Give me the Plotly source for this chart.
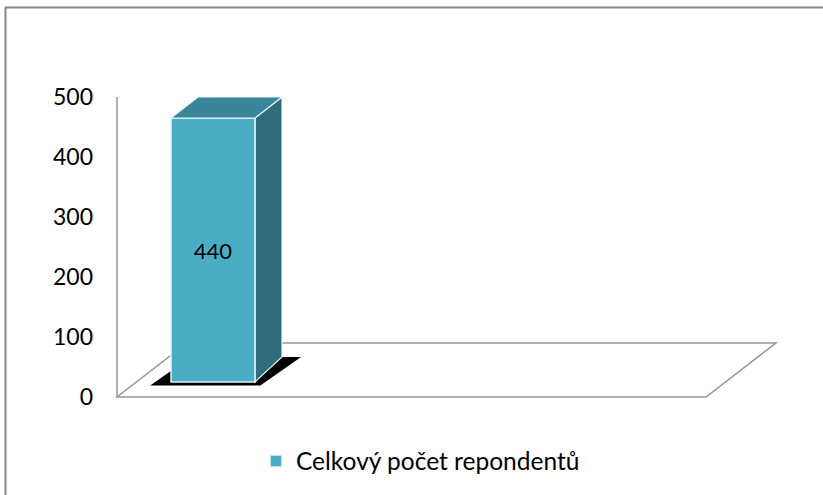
import plotly.graph_objects as go

# ---- data ----
categories = ["1"]
series_name = "Celkový počet repondentů"
values = [440]
y_ticks = [0, 100, 200, 300, 400, 500]

# ---- style / geometry ----
W, H = 823, 495
FONT = "Lato"
FRONT = "#4BACC6"
TOP = "#3A8599"
SIDE = "#306D7C"
EDGE = "rgba(235,248,252,0.95)"
GRID = "#969696"

ml, mr, mt, mb = 112, 41, 94, 95
plot_w = W - ml - mr
plot_h = H - mt - mb

# main (wall/floor) axes: x in px-like units, y in value units
x_range = [-5, 665]
y_range = [-5, 505]
floor_w = 589
depth_dx = 70
depth_dy = 90  # in value units

# bar plane axes
bar_px = 84
bar_center_px = 213
x2_r0 = -(bar_center_px - ml) / bar_px
x2_range = [x2_r0, x2_r0 + plot_w / bar_px]
px_per_unit = plot_h / (y_range[1] - y_range[0])
bar_base_px = 382
y2_range = [-(H - mb - bar_base_px) / px_per_unit, (bar_base_px - mt) / px_per_unit]

fig = go.Figure()
fig.add_trace(go.Bar(
    x=categories, y=values, name=series_name, width=1,
    xaxis="x2", yaxis="y2",
    marker=dict(color=FRONT, line=dict(color=EDGE, width=1.5)),
    text=[str(v) for v in values], textposition="inside",
    insidetextanchor="middle", textangle=0,
    textfont=dict(family=FONT, size=22, color="black"),
    showlegend=True,
))

shapes = []
def px_to_paper_x(px):
    return (px - ml) / plot_w
def px_to_paper_y(py):
    return (H - mb - py) / plot_h

# outer chart border
shapes.append(dict(type="line", xref="paper", yref="paper",
                   x0=px_to_paper_x(5.5), x1=px_to_paper_x(5.5),
                   y0=px_to_paper_y(7.5), y1=px_to_paper_y(H + 5),
                   line=dict(color="#878787", width=2), layer="above"))
shapes.append(dict(type="line", xref="paper", yref="paper",
                   x0=px_to_paper_x(5), x1=px_to_paper_x(W + 5),
                   y0=px_to_paper_y(7.5), y1=px_to_paper_y(7.5),
                   line=dict(color="#878787", width=2), layer="above"))

# floor
shapes.append(dict(type="path", xref="x", yref="y", layer="below",
                   path=f"M 0,0 L {floor_w},0 L {floor_w + depth_dx},{depth_dy} L {depth_dx},{depth_dy} Z",
                   fillcolor="white", line=dict(color=GRID, width=1.5)))
# wall line
shapes.append(dict(type="line", xref="x", yref="y", layer="below",
                   x0=0, x1=0, y0=0, y1=y_range[1] - 5,
                   line=dict(color=GRID, width=1.5)))

# 3D faces of each bar, derived from the values
dxu = 27 / bar_px
top_dy = 21 / px_per_unit
bot_dy = 25 / px_per_unit
for i, v in enumerate(values):
    xl, xr = i - 0.5, i + 0.5
    # shadow
    sl, sr = xl - 0.21, xr + 0.06
    sb = -4
    sd = 44
    sdx = 0.45
    shapes.append(dict(type="path", xref="x2", yref="y2", layer="below",
                       path=f"M {sl},{sb} L {sr},{sb} L {sr + sdx},{sb + sd} L {sl + sdx},{sb + sd} Z",
                       fillcolor="black", line=dict(color="black", width=2)))
    # side face
    shapes.append(dict(type="path", xref="x2", yref="y2", layer="below",
                       path=f"M {xr},0 L {xr},{v} L {xr + dxu},{v + top_dy} L {xr + dxu},{bot_dy} Z",
                       fillcolor=SIDE, line=dict(color=EDGE, width=1.2)))
    # top face
    shapes.append(dict(type="path", xref="x2", yref="y2", layer="above",
                       path=f"M {xl},{v} L {xr},{v} L {xr + dxu},{v + top_dy} L {xl + dxu},{v + top_dy} Z",
                       fillcolor=TOP, line=dict(color=EDGE, width=1.2)))

fig.update_layout(
    width=W, height=H,
    margin=dict(l=ml, r=mr, t=mt, b=mb, pad=0),
    paper_bgcolor="white", plot_bgcolor="white",
    font=dict(family=FONT, size=23, color="black"),
    xaxis=dict(range=x_range, visible=False, fixedrange=True),
    yaxis=dict(range=y_range, tickvals=y_ticks, ticktext=[str(t) for t in y_ticks],
               showgrid=False, zeroline=False, showline=False, ticks="",
               ticklabelstandoff=18, tickfont=dict(family=FONT, size=23)),
    xaxis2=dict(range=x2_range, overlaying="x", visible=False, type="category"),
    yaxis2=dict(range=y2_range, overlaying="y", visible=False),
    shapes=shapes,
    showlegend=True,
    legend=dict(orientation="h", x=px_to_paper_x(256), xanchor="left",
                y=px_to_paper_y(461), yanchor="middle",
                font=dict(family=FONT, size=24.5), bgcolor="rgba(0,0,0,0)"),
)

fig.write_html("out.html")
